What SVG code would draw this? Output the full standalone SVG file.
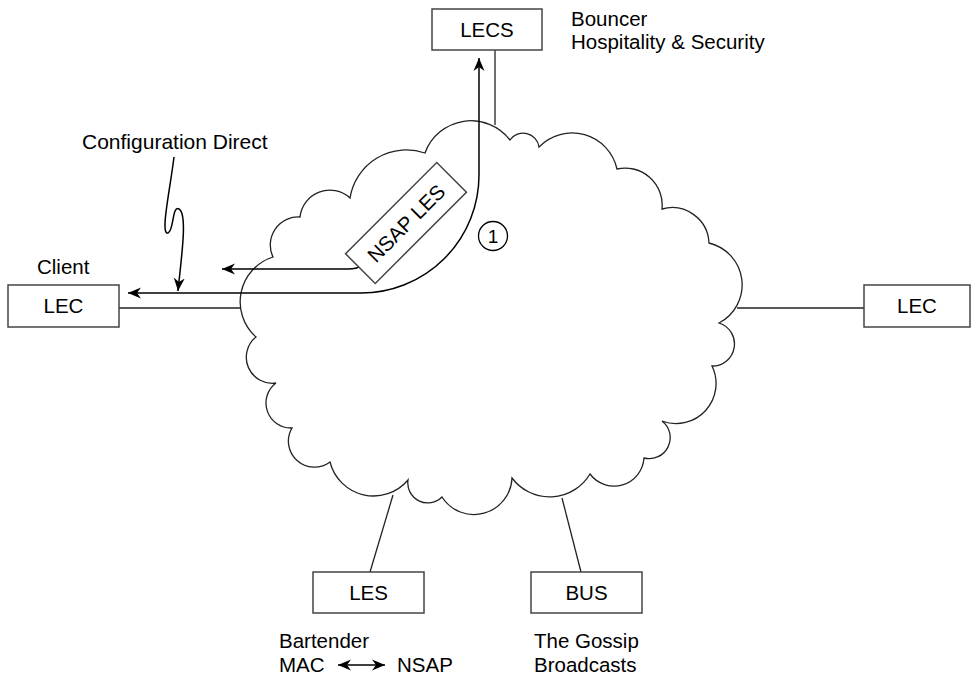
<svg xmlns="http://www.w3.org/2000/svg" width="973" height="677" viewBox="0 0 973 677">
<style>
text{font-family:"Liberation Sans",Arial,sans-serif;font-size:20.5px;fill:#000}
.box{fill:#fff;stroke:#444;stroke-width:1.5}
.ln{fill:none;stroke:#222;stroke-width:1.3}
.ar{fill:none;stroke:#000;stroke-width:1.5}
.c{text-anchor:middle}
</style>
<defs>
<marker id="ah" viewBox="-13 -6 14 12" markerWidth="14" markerHeight="12" refX="0" refY="0" orient="auto-start-reverse" markerUnits="userSpaceOnUse">
<path d="M0,0 L-13,-5.5 L-9,0 L-13,5.5 Z" fill="#000"/>
</marker>
</defs>
<rect width="973" height="677" fill="#fff"/>
<g id="cloud">
<path class="ln" d="M273,257 A28,28 0 0 1 300,217 A30,30 0 0 1 350,198 A57,57 0 0 1 425,153 A49,49 0 0 1 510,140 A16,16 0 0 1 539,147 A46,46 0 0 1 617,169 A37,37 0 0 1 662,209 A37,37 0 0 1 709,243 A43,43 0 0 1 719,323 A22,22 0 0 1 712,366 A40,40 0 0 1 662,421 A21,21 0 0 1 644,458 A30,30 0 0 1 590,474 A47,47 0 0 1 512,478 A38,38 0 0 1 442,497 A20,20 0 0 1 408,480 A45,45 0 0 1 330,462 A26,26 0 0 1 292,428 A25,25 0 0 1 276,383 A26,26 0 0 1 256,337 A47,47 0 0 1 273,257 Z"/>
</g>
<g id="connectors">
<line class="ln" x1="495" y1="50" x2="495" y2="125"/>
<line class="ln" x1="119" y1="308" x2="240" y2="308"/>
<line class="ln" x1="737" y1="308" x2="864" y2="308"/>
<line class="ln" x1="370" y1="572" x2="393" y2="495"/>
<line class="ln" x1="581" y1="572" x2="562" y2="498"/>
<path class="ar" d="M128,293 L361,293 A118,118 0 0 0 479,175 L479,58" marker-start="url(#ah)" marker-end="url(#ah)"/>
<path class="ar" d="M362,265 Q358,269 348,269 L222,269" marker-end="url(#ah)"/>
<path class="ar" d="M174,157 C170,190 160,235 168,233 C174,231 172,205 179,209 C188,214 181,260 178,291" marker-end="url(#ah)"/>
<line class="ar" x1="338" y1="665" x2="385" y2="665" marker-start="url(#ah)" marker-end="url(#ah)"/>
</g>
<g id="lecs">
<rect class="box" x="432" y="9" width="110" height="41"/>
<text class="c" x="487" y="37">LECS</text>
<text x="571" y="26">Bouncer</text>
<text x="571" y="49">Hospitality &amp; Security</text>
</g>
<g id="lec-left">
<rect class="box" x="8" y="285" width="111" height="42"/>
<text class="c" x="63.5" y="313">LEC</text>
<text x="37" y="274">Client</text>
</g>
<g id="lec-right">
<rect class="box" x="864" y="285" width="106" height="42"/>
<text class="c" x="917" y="313">LEC</text>
</g>
<g id="les">
<rect class="box" x="313" y="572" width="111" height="41"/>
<text class="c" x="368.5" y="600">LES</text>
<text x="279" y="648">Bartender</text>
<text x="279" y="672">MAC</text>
<text x="397" y="672">NSAP</text>
</g>
<g id="bus">
<rect class="box" x="531" y="572" width="111" height="41"/>
<text class="c" x="586.5" y="600">BUS</text>
<text x="534" y="648">The Gossip</text>
<text x="534" y="672">Broadcasts</text>
</g>
<g id="nsap-les">
<g transform="translate(406,223) rotate(-45)">
<rect class="box" x="-64.5" y="-21" width="129" height="42"/>
<text class="c" x="0" y="7.5">NSAP LES</text>
</g>
</g>
<g id="step1">
<circle cx="493" cy="236" r="14.5" fill="#fff" stroke="#000" stroke-width="1.3"/>
<text class="c" x="493" y="243" style="font-size:19px">1</text>
</g>
<g id="config-label">
<text x="82" y="149" style="font-size:21px">Configuration Direct</text>
</g>
</svg>
